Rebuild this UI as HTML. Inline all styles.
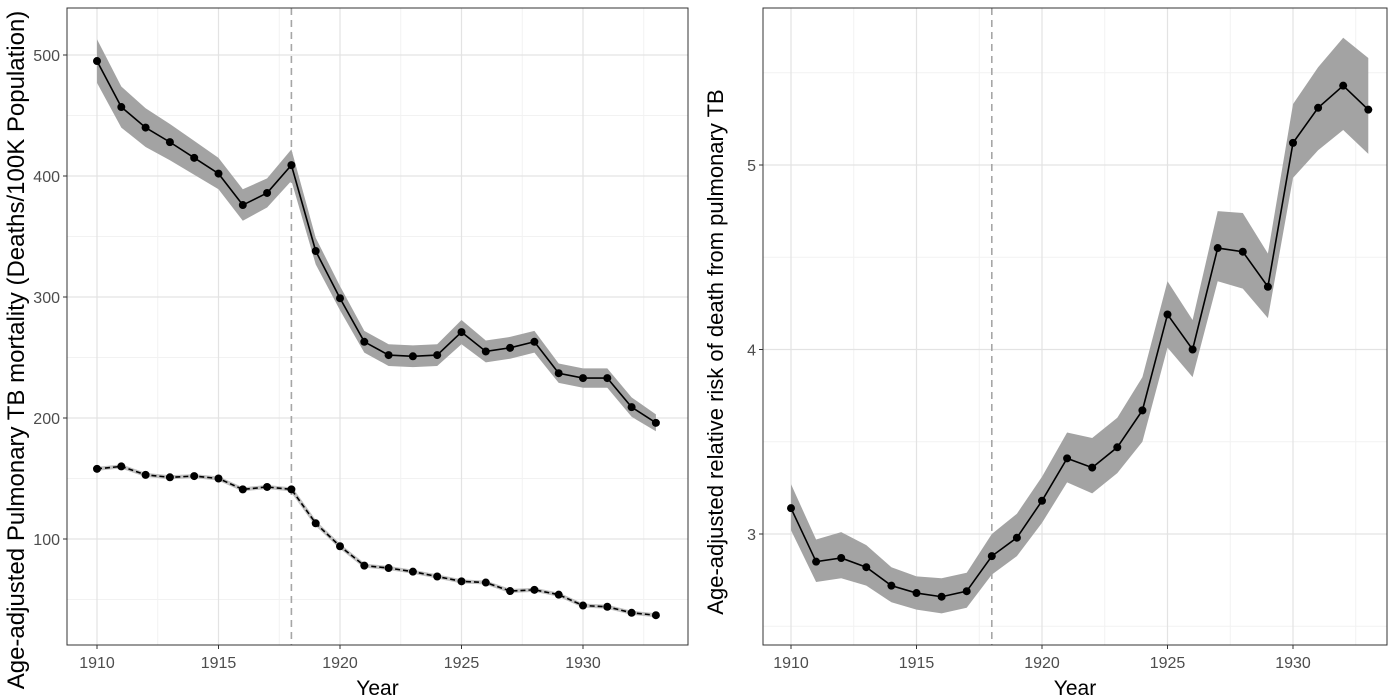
<!DOCTYPE html>
<html><head><meta charset="utf-8"><style>
body{margin:0;background:#fff;}
svg{display:block;font-family:"Liberation Sans",Arial,sans-serif;}
</style></head><body>
<svg id="c" width="1400" height="696"></svg>
<script>
const years=[1910,1911,1912,1913,1914,1915,1916,1917,1918,1919,1920,1921,1922,1923,1924,1925,1926,1927,1928,1929,1930,1931,1932,1933];
const totalRate=[495,457,440,428,415,402,376,386,409,338,299,263,252,251,252,271,255,258,263,237,233,233,209,196];
const totalLo=[477,440,424,413,401,389,363,374,396,327,289,254,243,242,243,261,246,249,254,229,225,225,201,189];
const totalHi=[513,474,456,443,429,415,389,398,422,349,309,272,261,260,261,281,264,267,272,245,241,241,217,203];
const lowerRate=[158,160,153,151,152,150,141,143,141,113,94,78,76,73,69,65,64,57,58,54,45,44,39,37];
const rrVal=[3.14,2.85,2.87,2.82,2.72,2.68,2.66,2.69,2.88,2.98,3.18,3.41,3.36,3.47,3.67,4.19,4.00,4.55,4.53,4.34,5.12,5.31,5.43,5.30];
const rrLo=[3.02,2.74,2.76,2.72,2.63,2.59,2.57,2.60,2.78,2.88,3.06,3.28,3.22,3.33,3.50,4.01,3.85,4.37,4.33,4.17,4.93,5.08,5.19,5.06];
const rrHi=[3.27,2.97,3.01,2.94,2.82,2.77,2.76,2.79,3.00,3.11,3.31,3.55,3.52,3.63,3.85,4.37,4.16,4.75,4.74,4.52,5.33,5.53,5.69,5.58];
const leftYTicks=[100,200,300,400,500];
const rightYTicks=[3,4,5];
const xTicks=[1910,1915,1920,1925,1930];
const NS="http://www.w3.org/2000/svg";
const svg=document.getElementById('c');
function mk(t,a,p){const e=document.createElementNS(NS,t);for(const k in a)e.setAttribute(k,a[k]);(p||svg).appendChild(e);return e;}
function panel(P){
  const g=mk('g',{});
  
  
  const X=v=>P.x0+(v-1910)*P.xs, Y=v=>P.y0-(v-P.yb)*P.ys;
  for(let v=1907.5;v<=1936;v+=5){const x=X(v);if(x>P.l&&x<P.r)mk('line',{x1:x,x2:x,y1:P.t,y2:P.b,stroke:'#f2f2f2','stroke-width':1},g);}
  P.minor.forEach(v=>{const y=Y(v);if(y>P.t&&y<P.b)mk('line',{x1:P.l,x2:P.r,y1:y,y2:y,stroke:'#f2f2f2','stroke-width':1},g);});
  xTicks.forEach(v=>mk('line',{x1:X(v),x2:X(v),y1:P.t,y2:P.b,stroke:'#e3e3e3','stroke-width':1.2},g));
  P.yt.forEach(v=>mk('line',{x1:P.l,x2:P.r,y1:Y(v),y2:Y(v),stroke:'#e3e3e3','stroke-width':1.2},g));
  mk('line',{x1:X(1918),x2:X(1918),y1:P.t,y2:P.b,stroke:'#a6a6a6','stroke-width':1.6,'stroke-dasharray':'7,5'},g);
  P.series.forEach(s=>{
    if(s.lo){let d='M'+years.map((y,i)=>X(y)+','+Y(s.hi[i])).join('L')+'L'+years.map((y,i)=>X(y)+','+Y(s.lo[i])).reverse().join('L')+'Z';
      const band=mk('path',{d:d,fill:'#a3a3a3'},g);}
    const pl=mk('polyline',{points:years.map((y,i)=>X(y)+','+Y(s.v[i])).join(' '),fill:'none',stroke:'#000','stroke-width':1.6,'stroke-dasharray':s.dash||'none'},g);
    
    if(s.dash){const bb=mk('polyline',{points:years.map((y,i)=>X(y)+','+Y(s.v[i])).join(' '),fill:'none',stroke:'#999','stroke-width':4,opacity:0.6},g);g.insertBefore(bb,pl);}
    years.forEach((y,i)=>{const c=mk('circle',{cx:X(y),cy:Y(s.v[i]),r:4,fill:'#000'},g);});
  });
  mk('rect',{x:P.l,y:P.t,width:P.r-P.l,height:P.b-P.t,fill:'none',stroke:'#333','stroke-width':1},g);
  xTicks.forEach(v=>{mk('line',{x1:X(v),x2:X(v),y1:P.b,y2:P.b+4,stroke:'#333'},g);
    const t=mk('text',{x:X(v),y:P.b+23,'text-anchor':'middle','font-size':16,fill:'#4d4d4d'},g);t.textContent=v;
    });
  P.yt.forEach(v=>{mk('line',{x1:P.l-4,x2:P.l,y1:Y(v),y2:Y(v),stroke:'#333'},g);
    const t=mk('text',{x:P.l-7,y:Y(v)+6,'text-anchor':'end','font-size':16,fill:'#4d4d4d'},g);t.textContent=v;
    });
  const xt=mk('text',{x:(P.l+P.r)/2,y:695,'text-anchor':'middle','font-size':21,fill:'#000'},g);xt.textContent='Year';
  
  const yt=mk('text',{x:0,y:0,'text-anchor':'middle','font-size':P.yfs,fill:'#000',transform:`translate(${P.ytx},${P.yty}) rotate(-90)`},g);yt.textContent=P.ytitle;
  
}
panel({name:'left-panel',l:67,r:688,t:8,b:645,x0:97,xs:24.3,y0:660,yb:0,ys:1.21,yt:leftYTicks,minor:[50,150,250,350,450,550],
  series:[{n:'total',v:totalRate,lo:totalLo,hi:totalHi},{n:'lower',v:lowerRate,dash:'5,3'}],
  ytitle:'Age-adjusted Pulmonary TB mortality (Deaths/100K Population)',yfs:24,ytx:24,yty:350});
panel({name:'right-panel',l:763,r:1387,t:8,b:645,x0:791,xs:25.1,y0:534,yb:3,ys:184.5,yt:rightYTicks,minor:[2.5,3.5,4.5,5.5],
  series:[{n:'relative-risk',v:rrVal,lo:rrLo,hi:rrHi}],
  ytitle:'Age-adjusted relative risk of death from pulmonary TB',yfs:22,ytx:723,yty:352});
</script>
</body></html>
